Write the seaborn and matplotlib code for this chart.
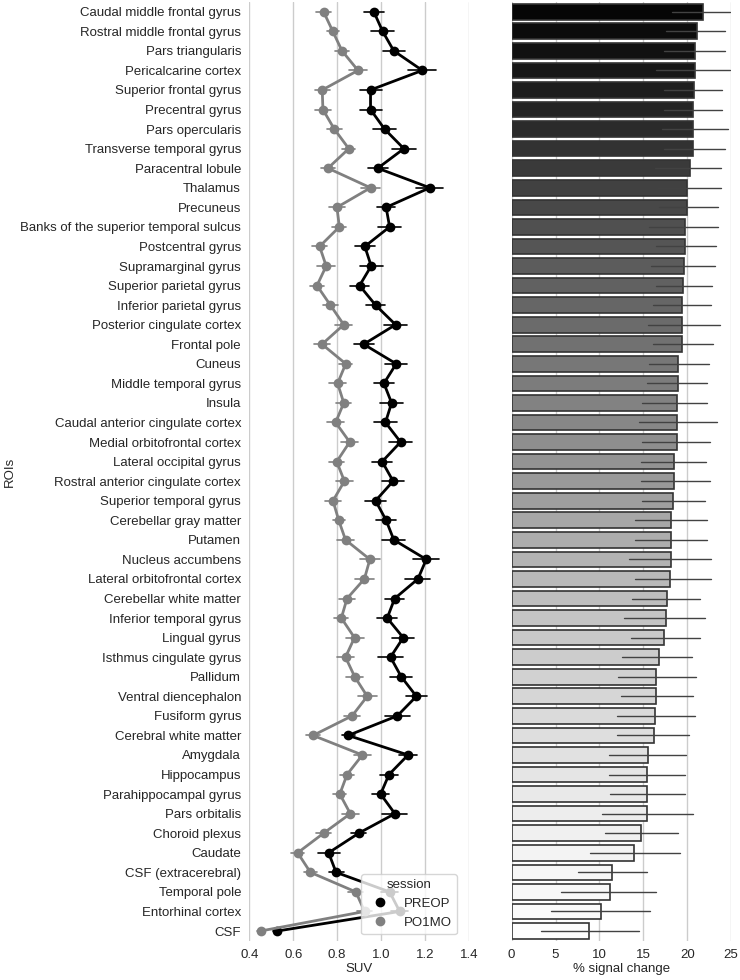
import matplotlib
matplotlib.use("Agg")
import matplotlib.pyplot as plt
import seaborn as sns
import pandas as pd

rois = [
    "Caudal middle frontal gyrus", "Rostral middle frontal gyrus", "Pars triangularis",
    "Pericalcarine cortex", "Superior frontal gyrus", "Precentral gyrus", "Pars opercularis",
    "Transverse temporal gyrus", "Paracentral lobule", "Thalamus", "Precuneus",
    "Banks of the superior temporal sulcus", "Postcentral gyrus", "Supramarginal gyrus",
    "Superior parietal gyrus", "Inferior parietal gyrus", "Posterior cingulate cortex",
    "Frontal pole", "Cuneus", "Middle temporal gyrus", "Insula",
    "Caudal anterior cingulate cortex", "Medial orbitofrontal cortex", "Lateral occipital gyrus",
    "Rostral anterior cingulate cortex", "Superior temporal gyrus", "Cerebellar gray matter",
    "Putamen", "Nucleus accumbens", "Lateral orbitofrontal cortex", "Cerebellar white matter",
    "Inferior temporal gyrus", "Lingual gyrus", "Isthmus cingulate gyrus", "Pallidum",
    "Ventral diencephalon", "Fusiform gyrus", "Cerebral white matter", "Amygdala",
    "Hippocampus", "Parahippocampal gyrus", "Pars orbitalis", "Choroid plexus", "Caudate",
    "CSF (extracerebral)", "Temporal pole", "Entorhinal cortex", "CSF",
]

sessions = ["PREOP", "PO1MO"]

suv_preop = [0.967, 1.007, 1.058, 1.188, 0.952, 0.952, 1.016, 1.104, 0.985, 1.222, 1.023, 1.039,
             0.926, 0.955, 0.902, 0.975, 1.066, 0.921, 1.069, 1.013, 1.048, 1.020, 1.089, 1.005,
             1.055, 0.975, 1.023, 1.058, 1.206, 1.168, 1.062, 1.028, 1.101, 1.043, 1.092, 1.161,
             1.074, 0.850, 1.123, 1.036, 0.998, 1.063, 0.898, 0.761, 0.795, 1.039, 1.085, 0.527]
err_preop = [0.047, 0.053, 0.051, 0.064, 0.050, 0.050, 0.052, 0.055, 0.046, 0.061, 0.040, 0.053,
             0.047, 0.052, 0.042, 0.044, 0.053, 0.046, 0.051, 0.047, 0.052, 0.053, 0.051, 0.046,
             0.050, 0.046, 0.046, 0.052, 0.059, 0.057, 0.043, 0.046, 0.051, 0.057, 0.050, 0.049,
             0.056, 0.030, 0.041, 0.043, 0.040, 0.057, 0.034, 0.050, 0.034, 0.040, 0.040, 0.019]

suv_po1mo = [0.738, 0.780, 0.822, 0.895, 0.732, 0.735, 0.787, 0.853, 0.758, 0.952, 0.799, 0.810,
             0.720, 0.750, 0.708, 0.769, 0.830, 0.731, 0.839, 0.802, 0.830, 0.793, 0.857, 0.798,
             0.833, 0.781, 0.807, 0.838, 0.949, 0.924, 0.845, 0.819, 0.879, 0.838, 0.880, 0.937,
             0.868, 0.690, 0.915, 0.845, 0.812, 0.860, 0.738, 0.620, 0.678, 0.885, 0.925, 0.451]
err_po1mo = [0.036, 0.027, 0.033, 0.042, 0.034, 0.035, 0.034, 0.030, 0.031, 0.044, 0.036, 0.032,
             0.034, 0.040, 0.032, 0.034, 0.038, 0.035, 0.030, 0.037, 0.034, 0.038, 0.040, 0.034,
             0.040, 0.037, 0.027, 0.038, 0.044, 0.043, 0.036, 0.032, 0.041, 0.038, 0.038, 0.043,
             0.037, 0.030, 0.040, 0.032, 0.030, 0.038, 0.036, 0.030, 0.030, 0.034, 0.035, 0.015]

pct_change = [21.75, 21.06, 20.87, 20.87, 20.76, 20.68, 20.68, 20.68, 20.30, 20.00, 20.00, 19.80,
              19.80, 19.58, 19.50, 19.43, 19.43, 19.43, 19.00, 18.94, 18.82, 18.82, 18.82, 18.52,
              18.52, 18.40, 18.20, 18.20, 18.10, 17.99, 17.72, 17.60, 17.34, 16.74, 16.50, 16.43,
              16.30, 16.17, 15.56, 15.45, 15.37, 15.37, 14.76, 13.97, 11.46, 11.23, 10.13, 8.77]
pct_lo = [18.3, 17.6, 17.3, 16.4, 17.3, 17.3, 17.1, 17.3, 16.3, 16.6, 16.8, 15.6,
          16.5, 15.9, 16.4, 16.05, 15.5, 16.05, 15.6, 15.45, 14.9, 14.46, 14.84, 14.7,
          14.76, 14.9, 14.08, 14.08, 13.4, 14.08, 13.7, 12.8, 13.6, 12.6, 12.1, 12.5,
          12.0, 11.95, 11.1, 11.1, 11.2, 10.25, 10.6, 8.9, 7.6, 5.6, 4.5, 3.3]
pct_hi = [24.9, 24.3, 24.3, 24.9, 24.0, 24.0, 24.6, 24.3, 23.8, 23.9, 23.5, 23.5,
          23.3, 23.15, 22.8, 22.66, 23.7, 22.96, 22.5, 22.28, 22.2, 23.4, 22.58, 22.1,
          22.58, 22.0, 22.28, 22.28, 22.66, 22.66, 21.5, 22.0, 21.4, 20.5, 21.0, 20.7,
          20.9, 20.2, 19.9, 19.7, 19.7, 20.7, 19.0, 19.2, 15.4, 16.4, 15.8, 14.5]

# long form tables: centre value plus the two interval ends, so that
# median = centre and the 0-100 percentile interval = error bar
rows = []
for sess, vals, errs in [("PREOP", suv_preop, err_preop), ("PO1MO", suv_po1mo, err_po1mo)]:
    for roi, v, e in zip(rois, vals, errs):
        for s in (v, v - e, v + e):
            rows.append({"ROIs": roi, "session": sess, "SUV": s})
df_suv = pd.DataFrame(rows)

rows = []
for roi, v, lo, hi in zip(rois, pct_change, pct_lo, pct_hi):
    for s in (v, lo, hi):
        rows.append({"ROIs": roi, "pct": s})
df_pct = pd.DataFrame(rows)

sns.set_theme(style="whitegrid")
plt.rcParams["font.family"] = ["Liberation Sans", "DejaVu Sans"]
fs = 9.5

fig, (ax1, ax2) = plt.subplots(1, 2, figsize=(7.4, 9.8), dpi=100)
fig.subplots_adjust(left=0.337, right=0.988, top=0.998, bottom=0.04, wspace=0.195)

sns.pointplot(data=df_suv, x="SUV", y="ROIs", hue="session", order=rois, hue_order=sessions,
              palette=["black", "gray"], estimator="median", errorbar=("pi", 100),
              markersize=5.5, linewidth=2, err_kws={"linewidth": 1.2}, ax=ax1)
ax1.set_xlim(0.4, 1.4)
ax1.set_xticks([0.4, 0.6, 0.8, 1.0, 1.2, 1.4])
ax1.set_xlabel("SUV", fontsize=fs, labelpad=1)
ax1.set_ylabel("ROIs", fontsize=fs, labelpad=3)
ax1.tick_params(axis="y", labelsize=fs, length=0, pad=6)
ax1.tick_params(axis="x", labelsize=fs, length=0, pad=6)
leg = ax1.legend(title="session", loc="lower right", bbox_to_anchor=(0.975, 0.0),
                 fontsize=fs, title_fontsize=fs)
for h in leg.legend_handles:
    h.set_linestyle("none")

sns.barplot(data=df_pct, x="pct", y="ROIs", hue="ROIs", order=rois, hue_order=rois,
            palette=sns.color_palette("Greys_r", len(rois)), legend=False,
            estimator="median", errorbar=("pi", 100),
            err_kws={"color": ".26", "linewidth": 1}, edgecolor=".2", linewidth=1.2, ax=ax2)
ax2.set_xlim(0, 25)
ax2.set_xticks([0, 5, 10, 15, 20, 25])
ax2.set_xlabel("% signal change", fontsize=fs, labelpad=1)
ax2.set_ylabel("")
ax2.set_yticklabels([])
ax2.tick_params(axis="both", labelsize=fs, length=0)
ax2.tick_params(axis="x", pad=6)

for ax in (ax1, ax2):
    ax.set_ylim(len(rois) - 0.5, -0.5)
    sns.despine(ax=ax, left=True, bottom=True)

fig.savefig("out.png", dpi=100)
